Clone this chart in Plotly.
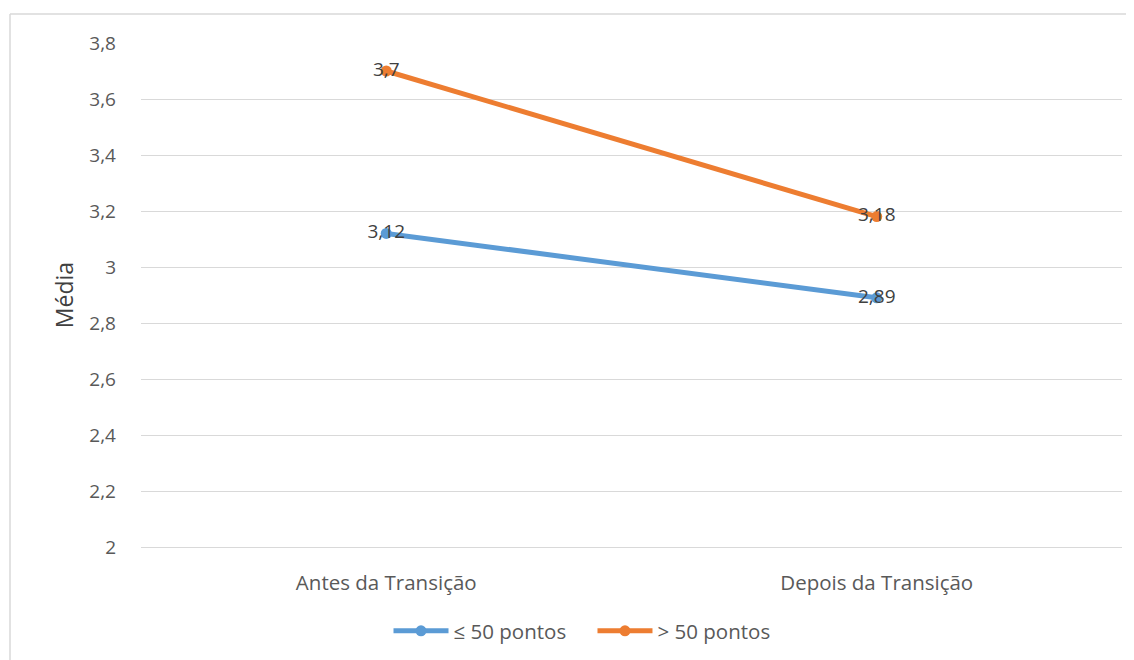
import plotly.graph_objects as go

# ── Data ───────────────────────────────────────────────────────────────────
categories = ['Antes da Transição', 'Depois da Transição']
serie_baixa = [3.12, 2.89]   # ≤ 50 pontos
serie_alta = [3.70, 3.18]    # > 50 pontos
nomes = ['≤ 50 pontos', '> 50 pontos']
y_ticks = [2, 2.2, 2.4, 2.6, 2.8, 3, 3.2, 3.4, 3.6, 3.8]
y_ticklabels = ['2', '2,2', '2,4', '2,6', '2,8', '3', '3,2', '3,4', '3,6', '3,8']

C = {
    'blue': '#5B9BD5',
    'orange': '#ED7D31',
    'grid': '#D9D9D9',
    'tick': '#595959',
    'label': '#404040',
}
FONT = 'Open Sans, Liberation Sans, sans-serif'

W, H = 1134, 660
# page body adds an 8px offset, margins compensate for it
M = dict(l=133, r=20, t=35, b=121)


def fmt(v):
    return f'{v:g}'.replace('.', ',')


fig = go.Figure()
for i, (vals, cor) in enumerate([(serie_baixa, C['blue']), (serie_alta, C['orange'])]):
    fig.add_trace(go.Scatter(
        x=categories,
        y=vals,
        # nbsp padding widens the gap between legend items
        name=nomes[i] + ('\u00a0' * 4 if i == 0 else ''),
        mode='lines+markers+text',
        line=dict(color=cor, width=5),
        marker=dict(color=cor, size=11),
        text=[fmt(v) for v in vals],
        textposition='middle center',
        textfont=dict(family=FONT, color=C['label'], size=19),
        cliponaxis=False,
    ))

# chart frame: only left and top edges are visible in the crop
pw = W - M['l'] - M['r']
ph = H - M['t'] - M['b']
fx0 = (2 - M['l']) / pw
fy1 = (H - M['b'] - 6) / ph
frame = dict(color=C['grid'], width=1.5)
fig.add_shape(type='line', xref='paper', yref='paper', x0=fx0, x1=fx0,
              y0=-0.5, y1=fy1, line=frame, layer='below')
fig.add_shape(type='line', xref='paper', yref='paper', x0=fx0, x1=1.1,
              y0=fy1, y1=fy1, line=frame, layer='below')

fig.update_layout(
    width=W, height=H,
    paper_bgcolor='white', plot_bgcolor='white',
    margin=M,
    font=dict(family=FONT, color=C['tick'], size=19),
    xaxis=dict(
        range=[-0.5, 1.5],
        showgrid=False, zeroline=False,
        showline=True, linecolor=C['grid'], linewidth=1,
        ticks='', ticklabelstandoff=17,
        tickfont=dict(size=20.5, color=C['tick']),
    ),
    yaxis=dict(
        range=[2, 3.8],
        tickvals=y_ticks, ticktext=y_ticklabels,
        showgrid=True, gridcolor=C['grid'], gridwidth=1,
        zeroline=False, showline=False, ticks='',
        ticklabelstandoff=24,
        tickfont=dict(size=19, color=C['tick']),
        title=dict(text='Média', font=dict(size=23, color='#404040'), standoff=9),
    ),
    showlegend=True,
    legend=dict(
        orientation='h', x=(574 - M['l']) / pw, xanchor='center',
        y=-(623 - 539) / ph, yanchor='middle',
        font=dict(size=20.5, color=C['tick']),
        itemwidth=55,
    ),
)

fig.write_html('out.html')
